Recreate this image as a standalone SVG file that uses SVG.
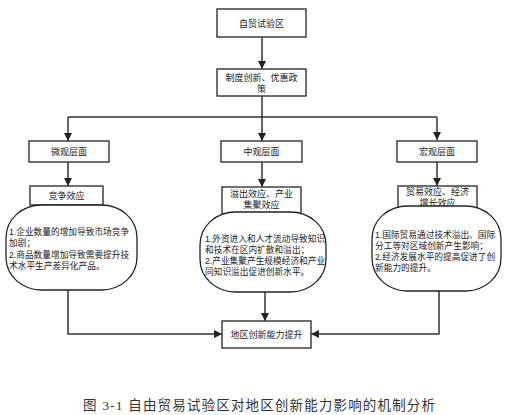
<svg xmlns="http://www.w3.org/2000/svg" width="510" height="415" viewBox="0 0 510 415">
<defs>
<marker id="ah" viewBox="0 0 10 10" refX="10" refY="5" markerWidth="8" markerHeight="8" markerUnits="userSpaceOnUse" orient="auto">
<path d="M0,0 L10,5 L0,10 Z" fill="#222"/>
</marker>
<style>
.box{fill:#fff;stroke:#333;stroke-width:1.4}
.rs{fill:#fff;stroke:#222;stroke-width:1.3}
.t{font-family:"Liberation Sans","Noto Sans CJK SC",sans-serif;font-size:9px;fill:#222}
.d{font-size:8.7px}
.c{text-anchor:middle}
.ln{fill:none;stroke:#333;stroke-width:1.5}
.cap{font-family:"Liberation Serif","Noto Sans CJK SC",serif;font-size:13.5px;fill:#333}
</style>
</defs>
<rect width="510" height="415" fill="#fff"/>
<g id="connectors">
<line class="ln" x1="262" y1="37" x2="262" y2="69" marker-end="url(#ah)"/>
<polyline class="ln" points="68,117 437,117"/>
<line class="ln" x1="262" y1="96" x2="262" y2="117"/>
<line class="ln" x1="68" y1="117" x2="68" y2="141" marker-end="url(#ah)"/>
<line class="ln" x1="262" y1="117" x2="262" y2="141" marker-end="url(#ah)"/>
<line class="ln" x1="437" y1="117" x2="437" y2="140" marker-end="url(#ah)"/>
<line class="ln" x1="68" y1="162" x2="68" y2="186" marker-end="url(#ah)"/>
<line class="ln" x1="262" y1="162" x2="262" y2="187" marker-end="url(#ah)"/>
<line class="ln" x1="437" y1="162" x2="437" y2="186" marker-end="url(#ah)"/>
<polyline class="ln" points="68,290 68,334 222,334" marker-end="url(#ah)"/>
<line class="ln" x1="265" y1="292" x2="265" y2="321" marker-end="url(#ah)"/>
<polyline class="ln" points="439,291 439,334 311,334" marker-end="url(#ah)"/>
</g>
<g id="n-zmq">
<rect class="box" x="217" y="9" width="89" height="28"/>
<text class="t c" x="261.5" y="26.5">自贸试验区</text>
</g>
<g id="n-policy">
<rect class="box" x="217" y="69" width="89" height="27"/>
<text class="t c" x="261.5" y="81">制度创新、优惠政</text>
<text class="t c" x="261.5" y="92">策</text>
</g>
<g id="n-micro">
<rect class="box" x="29" y="141" width="80" height="21"/>
<text class="t c" x="69" y="155">微观层面</text>
</g>
<g id="n-meso">
<rect class="box" x="221" y="141" width="81" height="21"/>
<text class="t c" x="261.5" y="155">中观层面</text>
</g>
<g id="n-macro">
<rect class="box" x="397" y="141" width="80" height="21"/>
<text class="t c" x="437" y="155">宏观层面</text>
</g>
<g id="n-compete">
<rect class="box" x="30" y="186" width="73" height="19"/>
<text class="t c" x="66.5" y="199">竞争效应</text>
</g>
<g id="n-spill">
<rect class="box" x="222" y="187" width="79" height="27"/>
<text class="t c" x="261.5" y="196.5">溢出效应、产业</text>
<text class="t c" x="261.5" y="207.5">集聚效应</text>
</g>
<g id="n-trade">
<rect class="box" x="398" y="186" width="79" height="24"/>
<text class="t c" x="437.5" y="195">贸易效应、经济</text>
<text class="t c" x="437.5" y="205.5">增长效应</text>
</g>
<g id="n-micro-desc">
<path class="rs" d="M42,205 H101 C121,205 137,219 137,238 V257 C137,276 121,290 101,290 H42 C22,290 6,276 6,257 V238 C6,219 22,205 42,205 Z"/>
<text class="t d" x="9" y="235">1.企业数量的增加导致市场竞争</text>
<text class="t d" x="9" y="246">加剧；</text>
<text class="t d" x="9" y="258">2.商品数量增加导致需要提升技</text>
<text class="t d" x="9" y="269">术水平生产差异化产品。</text>
</g>
<g id="n-meso-desc">
<path class="rs" d="M236,212 H290 C310,212 326,226 326,245 V259 C326,278 310,292 290,292 H236 C216,292 200,278 200,259 V245 C200,226 216,212 236,212 Z"/>
<text class="t d" x="205" y="242">1.外资进入和人才流动导致知识</text>
<text class="t d" x="205" y="253">和技术在区内扩散和溢出；</text>
<text class="t d" x="205" y="264">2.产业集聚产生规模经济和产业</text>
<text class="t d" x="205" y="275">同知识溢出促进创新水平。</text>
</g>
<g id="n-macro-desc">
<path class="rs" d="M408,206 H465 C485,206 501,220 501,239 V258 C501,277 485,291 465,291 H408 C388,291 372,277 372,258 V239 C372,220 388,206 408,206 Z"/>
<text class="t d" x="375" y="238">1.国际贸易通过技术溢出、国际</text>
<text class="t d" x="375" y="249">分工等对区域创新产生影响；</text>
<text class="t d" x="375" y="260">2.经济发展水平的提高促进了创</text>
<text class="t d" x="375" y="271">新能力的提升。</text>
</g>
<g id="n-result">
<rect class="box" x="222" y="321" width="89" height="27"/>
<text class="t c" x="266.5" y="338">地区创新能力提升</text>
</g>
<text class="cap" x="83" y="410" textLength="352" lengthAdjust="spacing">图 3-1 自由贸易试验区对地区创新能力影响的机制分析</text>
</svg>
